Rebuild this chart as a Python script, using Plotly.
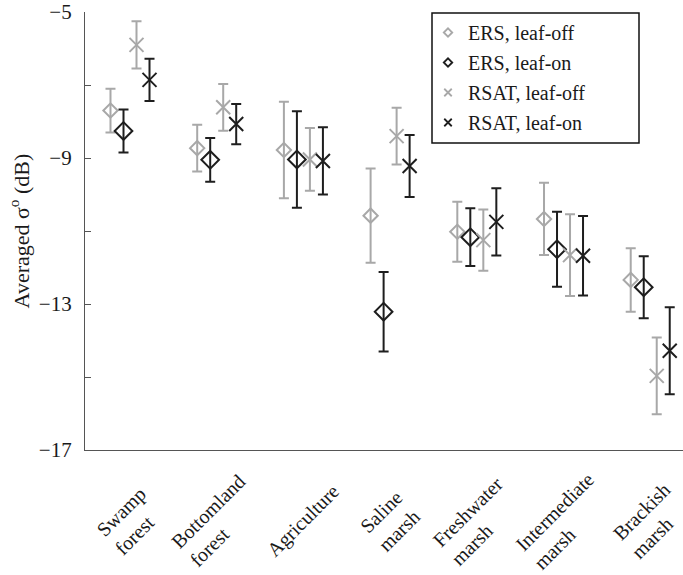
import plotly.graph_objects as go
import numpy as np

# ---------------- data ----------------
categories = ["Swamp<br>forest", "Bottomland<br>forest", "Agriculture",
              "Saline<br>marsh", "Freshwater<br>marsh", "Intermediate<br>marsh",
              "Brackish<br>marsh"]

ers_off = [-7.70, -8.73, -8.78, -10.58, -11.02, -10.67, -12.34]
ers_off_err = [0.60, 0.64, 1.32, 1.29, 0.82, 0.99, 0.87]

ers_on = [-8.26, -9.05, -9.04, -13.21, -11.17, -11.50, -12.54]
ers_on_err = [0.59, 0.60, 1.32, 1.09, 0.79, 1.03, 0.85]

rsat_off = [-5.90, -7.61, -9.04, -8.40, -11.25, -11.66, -14.97]
rsat_off_err = [0.65, 0.64, 0.86, 0.78, 0.84, 1.12, 1.05]

rsat_on = [-6.86, -8.07, -9.08, -9.22, -10.75, -11.68, -14.28]
rsat_on_err = [0.58, 0.55, 0.92, 0.85, 0.92, 1.09, 1.19]

series_names = ["ERS, leaf-off", "ERS, leaf-on", "RSAT, leaf-off", "RSAT, leaf-on"]

y_tick_vals = [-5, -9, -13, -17]
y_tick_text = ["\u22125", "\u22129", "\u221213", "\u221217"]
y_minor_step = 2

# ---------------- style ----------------
GRAY = "#a8a8a8"
BLACK = "#1e1e1e"
FONT = "Liberation Serif, DejaVu Serif, serif"
offsets = [-0.225, -0.075, 0.075, 0.225]

idx = np.arange(len(categories))
series = [
    (ers_off, ers_off_err, "diamond-open", GRAY, 11),
    (ers_on, ers_on_err, "diamond-open", BLACK, 13.6),
    (rsat_off, rsat_off_err, "x-thin-open", GRAY, 14),
    (rsat_on, rsat_on_err, "x-thin-open", BLACK, 14),
]

fig = go.Figure()
for (vals, errs, sym, col, sz), off, name in zip(series, offsets, series_names):
    fig.add_trace(go.Scatter(
        x=idx + off, y=vals, mode="markers", name=name, showlegend=False,
        cliponaxis=False, hoverinfo="skip",
        marker=dict(symbol=sym, size=sz, color=col, line=dict(color=col, width=2)),
        error_y=dict(type="data", array=errs, visible=True, color=col,
                     thickness=2, width=5),
    ))

# legend proxies (smaller markers, like the reference legend)
legend_sizes = [6.5, 6.5, 7.5, 7.5]
for (vals, errs, sym, col, sz), name, lsz in zip(series, series_names, legend_sizes):
    fig.add_trace(go.Scatter(
        x=[None], y=[None], mode="markers", name=name, legendgroup=name,
        marker=dict(symbol=sym, size=lsz, color=col, line=dict(color=col, width=1.8)),
    ))

# category labels (rotated, left-aligned lines)
for i, lab in enumerate(categories):
    fig.add_annotation(
        x=i, xref="x", y=-0.161, yref="paper", text=lab, showarrow=False,
        textangle=-45, xanchor="center", yanchor="middle", align="left",
        font=dict(family=FONT, size=20, color="#1a1a1a"),
    )

# legend frame
fig.add_shape(type="rect", xref="paper", yref="paper",
              x0=(432 - 85) / 598, x1=(639 - 85) / 598,
              y0=(450 - 13) / 438, y1=(450 - 143) / 438,
              line=dict(color="#111111", width=1.5), fillcolor="rgba(0,0,0,0)")

fig.update_layout(
    width=683, height=575,
    margin=dict(l=85, r=0, t=12, b=125),
    paper_bgcolor="white", plot_bgcolor="white",
    font=dict(family=FONT, size=20, color="#1a1a1a"),
    showlegend=True,
    legend=dict(x=(428 - 85) / 598, xanchor="left", y=(450 - 13) / 438, yanchor="top",
                bgcolor="rgba(0,0,0,0)", borderwidth=0, tracegroupgap=1,
                font=dict(family=FONT, size=20, color="#1a1a1a")),
    xaxis=dict(range=[-0.519, 6.378], showline=True, linecolor="#555555", linewidth=1.2,
               showticklabels=False, ticks="", showgrid=False, zeroline=False,
               automargin=False),
    yaxis=dict(range=[-17, -5], tickvals=y_tick_vals, ticktext=y_tick_text,
               ticks="inside", ticklen=6, tickcolor="#555555", tickwidth=1,
               minor=dict(tick0=-5, dtick=y_minor_step, ticks="inside", ticklen=6,
                          tickcolor="#555555", tickwidth=1, showgrid=False),
               showline=True, linecolor="#555555", linewidth=1.2,
               showgrid=False, zeroline=False, ticklabelstandoff=8, automargin=False,
               tickfont=dict(family=FONT, size=21, color="#1a1a1a"),
               title=dict(text="Averaged \u03c3<sup>o</sup> (dB)",
                          font=dict(family=FONT, size=22, color="#1a1a1a"), standoff=3)),
)

fig.write_html("out.html", config={"displayModeBar": False},
               post_script="document.body.style.margin='0';document.body.style.padding='0';")
